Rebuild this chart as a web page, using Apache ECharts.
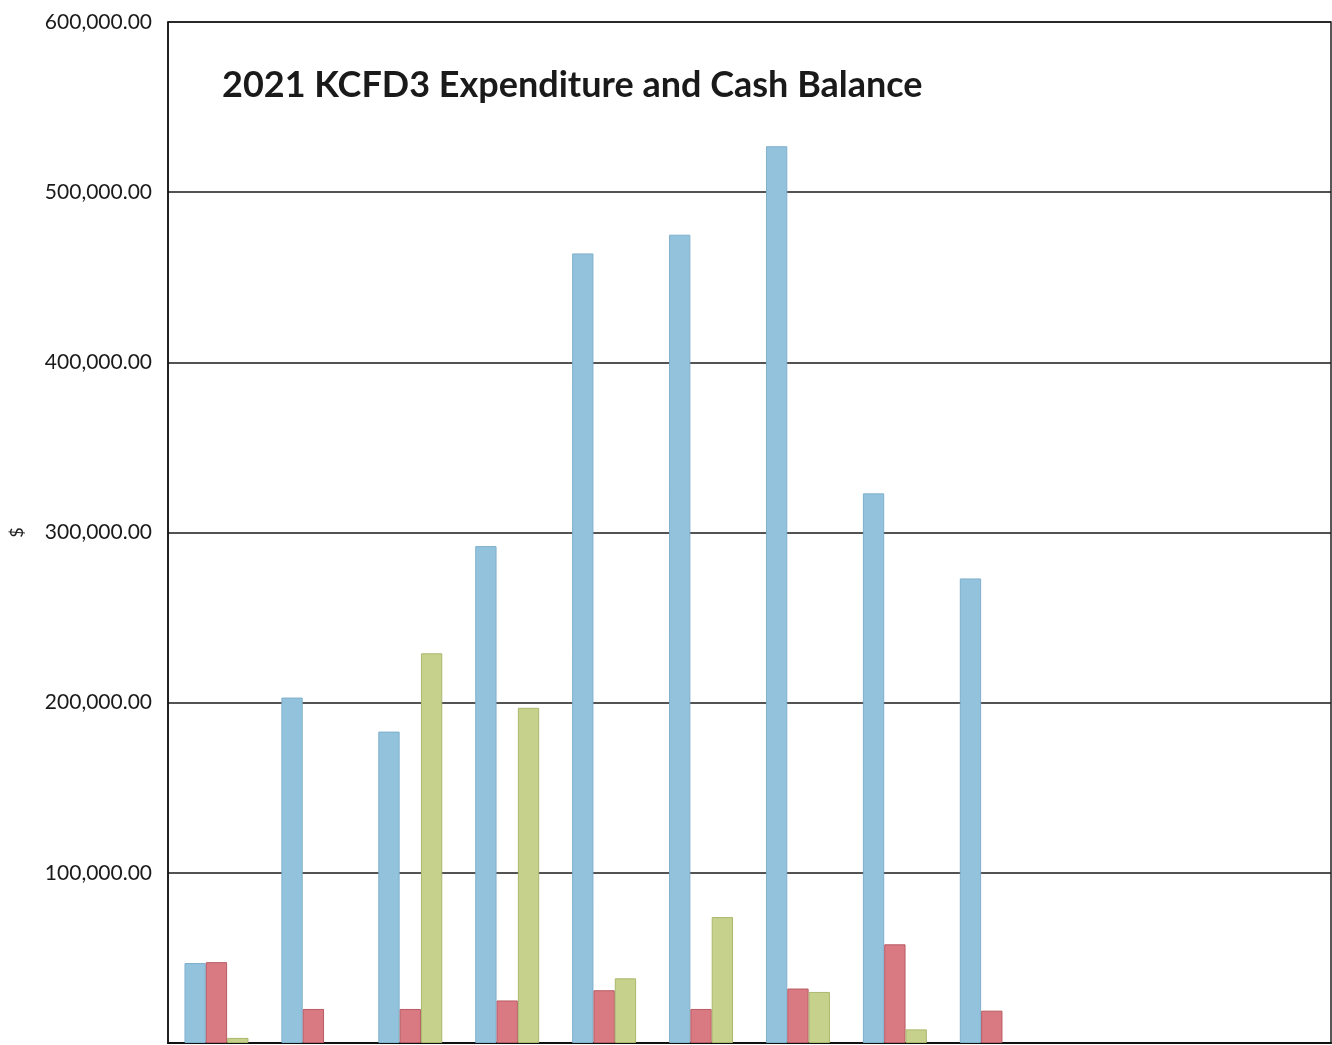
<!DOCTYPE html>
<html>
<head>
<meta charset="utf-8">
<style>
html,body{margin:0;padding:0;background:#fff;}
#chart{width:1332px;height:1045px;}
</style>
<script src="https://cdn.jsdelivr.net/npm/echarts@6/dist/echarts.min.js"></script>
</head>
<body>
<div id="chart"></div>
<script>
const months = ['Jan','Feb','Mar','Apr','May','Jun','Jul','Aug','Sep','Oct','Nov','Dec'];
const cashBalance = [47000, 203000, 183000, 292000, 464000, 475000, 527000, 323000, 273000, null, null, null];
const expenditure = [47500, 20000, 20000, 25000, 31000, 20000, 32000, 58000, 19000, null, null, null];
const revenue = [3000, null, 229000, 197000, 38000, 74000, 30000, 8000, null, null, null, null];
const yTicks = [0, 100000, 200000, 300000, 400000, 500000, 600000];

const chart = echarts.init(document.getElementById('chart'));
const fmt = v => v === 0 ? '' : v.toLocaleString('en-US', {minimumFractionDigits: 2, maximumFractionDigits: 2});
chart.setOption({
  animation: false,
  backgroundColor: '#ffffff',
  title: {
    text: '2021 KCFD3 Expenditure and Cash Balance',
    left: 217, top: 62,
    textStyle: {fontFamily: 'Lato', fontWeight: 'bold', fontSize: 36, color: '#1a1a1a'}
  },
  grid: {left: 164, right: 1, top: 22, bottom: 2, show: true, borderColor: '#222', borderWidth: 1.5, backgroundColor: 'transparent'},
  xAxis: {
    type: 'category', data: months,
    axisLine: {show: true, lineStyle: {color: '#111', width: 2}},
    axisTick: {show: false}, axisLabel: {show: false}
  },
  yAxis: {
    type: 'value', min: yTicks[0], max: yTicks[yTicks.length - 1], interval: 100000,
    name: '$', nameLocation: 'middle', nameRotate: 90, nameGap: 142,
    nameTextStyle: {fontFamily: 'Lato', fontSize: 18, color: '#222'},
    axisLine: {show: true, lineStyle: {color: '#111', width: 1.5}},
    axisTick: {show: false},
    splitLine: {lineStyle: {color: '#1a1a1a', width: 1.5}},
    axisLabel: {formatter: fmt, fontFamily: 'Lato', fontSize: 21, color: '#1a1a1a', margin: 16}
  },
  series: [
    {name: 'Cash Balance', type: 'bar', data: cashBalance, barGap: '0%', barCategoryGap: '34%',
     itemStyle: {color: '#93c2dc', borderColor: '#7fb0cc', borderWidth: 1}},
    {name: 'Expenditure', type: 'bar', data: expenditure,
     itemStyle: {color: '#d97a83', borderColor: '#b85a64', borderWidth: 1}},
    {name: 'Revenue', type: 'bar', data: revenue,
     itemStyle: {color: '#c6d18c', borderColor: '#aab86e', borderWidth: 1}}
  ]
});
</script>
</body>
</html>
